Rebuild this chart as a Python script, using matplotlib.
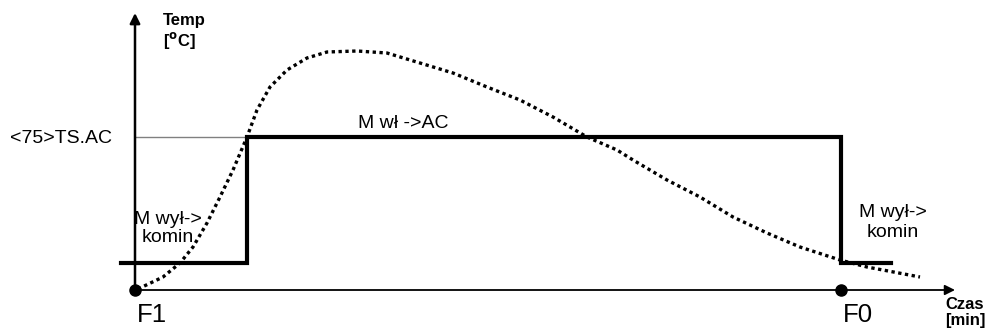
import numpy as np
import matplotlib
matplotlib.use('Agg')
import matplotlib.pyplot as plt

plt.rcParams['font.family'] = 'sans-serif'
plt.rcParams['font.sans-serif'] = ['Liberation Sans', 'DejaVu Sans']

# temperature curve (time, temp)
curve_time = [3, 28, 45, 58, 72, 85, 98, 112, 122, 135, 152, 172, 192, 222, 252, 285,
              318, 352, 385, 418, 452, 482, 498, 532, 565, 598, 632, 665, 705, 732, 785]
curve_temp = [1, 13, 27, 43, 67, 93, 120, 153, 180, 203, 220, 232, 238, 239, 237, 227,
              217, 203, 190, 173, 153, 140, 130, 110, 93, 73, 57, 43, 30, 23, 13]

# valve state (step line)
step_time = [-14, 112, 112, 706, 706, 756]
step_level = [27, 27, 153, 153, 27, 27]

threshold = 153          # <75>TS.AC
t_f1, t_f0 = 0, 706      # F1 / F0 moments
t_end, temp_top = 820, 277


def plot():
    fig = plt.figure(figsize=(9.9, 3.31), dpi=100)
    ax = fig.add_axes([0, 0, 1, 1])
    ax.set_xlim(-135, 855)
    ax.set_ylim(-41, 290)
    ax.axis('off')

    # axes with arrows
    ax.annotate('', xy=(t_f1, temp_top), xytext=(t_f1, 0),
                arrowprops=dict(arrowstyle='-|>', lw=1.8, color='black',
                                mutation_scale=15, shrinkA=0, shrinkB=0))
    ax.annotate('', xy=(t_end, 0), xytext=(t_f1, 0),
                arrowprops=dict(arrowstyle='-|>', lw=1.3, color='black',
                                mutation_scale=15, shrinkA=0, shrinkB=0))

    # threshold guide
    ax.plot([t_f1, step_time[1]], [threshold, threshold], color='#808080', lw=1)

    # valve state
    ax.plot(step_time, step_level, color='black', lw=3, solid_joinstyle='miter')

    # temperature
    ax.plot(curve_time, curve_temp, color='black', lw=2.4,
            linestyle=(0, (1, 1.05)), dash_capstyle='butt')

    # F1 / F0 points
    ax.plot([t_f1, t_f0], [0, 0], 'o', color='black', ms=8, zorder=5)
    ax.text(2, -32, 'F1', fontsize=18.5, ha='left', va='baseline')
    ax.text(708, -32, 'F0', fontsize=18.5, ha='left', va='baseline')

    # labels
    ax.text(28, 277, 'Temp\n[$^{\\mathbf{o}}$C]', fontsize=12, fontweight='bold',
            ha='left', va='top', linespacing=1.1)
    ax.text(810, -7, 'Czas\n[min]', fontsize=12, fontweight='bold',
            ha='left', va='top', linespacing=1.1)
    ax.text(-23, 147, '<75>TS.AC', fontsize=14, ha='right', va='baseline')
    ax.text(223, 162, 'M wł ->AC', fontsize=14, ha='left', va='baseline')

    for x, lines in [(33, (66, 48)), (758, (73, 53))]:
        ax.text(x, lines[0], 'M wył->', fontsize=14, ha='center', va='baseline')
        ax.text(x, lines[1], 'komin', fontsize=14, ha='center', va='baseline')

    fig.savefig('out.png', dpi=100)


plot()
